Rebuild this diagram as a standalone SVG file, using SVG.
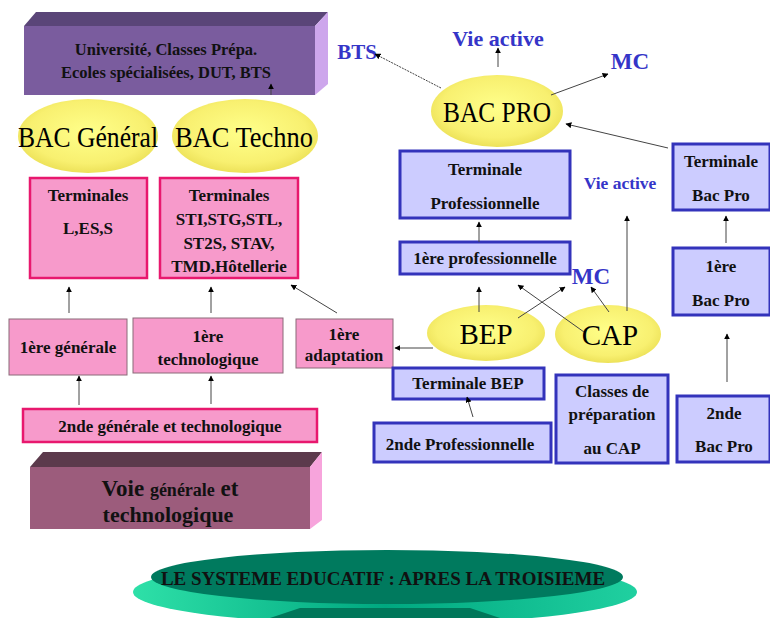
<svg xmlns="http://www.w3.org/2000/svg" width="770" height="618" viewBox="0 0 770 618">
<defs>
<radialGradient id="yel" cx="50%" cy="45%" r="60%">
<stop offset="0" stop-color="#ffff8a"/>
<stop offset="0.7" stop-color="#f8f070"/>
<stop offset="1" stop-color="#e8dc50"/>
</radialGradient>
<linearGradient id="grn" x1="0" y1="0" x2="1" y2="0">
<stop offset="0" stop-color="#2ee0a8"/>
<stop offset="0.5" stop-color="#00a880"/>
<stop offset="1" stop-color="#20d0a0"/>
</linearGradient>
<marker id="ah" viewBox="0 0 10 10" refX="9" refY="5" markerWidth="6" markerHeight="6" orient="auto" markerUnits="userSpaceOnUse">
<path d="M0,0 L10,5 L0,10 z" fill="#000"/>
</marker>
<style>
text{font-family:'Liberation Serif','DejaVu Serif',serif}
.t{font-weight:bold;fill:#111;text-anchor:middle}
.s15{font-size:17px}
.big{font-size:29px;fill:#000;text-anchor:middle}
.blue{font-weight:bold;fill:#3535c8;text-anchor:middle}
.pk{fill:#f79acb;stroke:#e8186e;stroke-width:2.5}
.pk2{fill:#f79acb;stroke:#8a6a78;stroke-width:1}
.bl{fill:#ccccff;stroke:#3333bb;stroke-width:3}
.el{fill:url(#yel)}
.c{stroke:#444;stroke-width:1;fill:none;marker-end:url(#ah)}
</style>
</defs>

<g id="universite">
<polygon points="24,26 36,12 328,12 315,26" fill="#5a4578"/>
<polygon points="315,26 328,12 328,84 315,95" fill="#cda6ec"/>
<rect x="24" y="26" width="291" height="69" fill="#7a5c9e"/>
<text class="t" x="166" y="55" style="font-size:16.5px">Université, Classes Prépa.</text>
<text class="t" x="166" y="78" style="font-size:16.5px">Ecoles spécialisées, DUT, BTS</text>
</g>

<g id="bac-general">
<ellipse class="el" cx="88" cy="136" rx="70" ry="37"/>
<text class="big" x="88" y="147" textLength="140" lengthAdjust="spacingAndGlyphs">BAC Général</text>
</g>
<g id="bac-techno">
<ellipse class="el" cx="245" cy="136" rx="73" ry="37"/>
<text class="big" x="244" y="147" textLength="138" lengthAdjust="spacingAndGlyphs">BAC Techno</text>
</g>

<g id="term-les">
<rect class="pk" x="30" y="178" width="117" height="100"/>
<text class="t s15" x="88" y="201">Terminales</text>
<text class="t s15" x="88" y="234">L,ES,S</text>
</g>
<g id="term-sti">
<rect class="pk" x="160" y="178" width="138" height="100"/>
<text class="t s15" x="229" y="201">Terminales</text>
<text class="t s15" x="229" y="225">STI,STG,STL,</text>
<text class="t s15" x="229" y="249">ST2S, STAV,</text>
<text class="t s15" x="229" y="272">TMD,Hôtellerie</text>
</g>

<g id="premiere-generale">
<rect class="pk2" x="9" y="319" width="118" height="56"/>
<text class="t s15" x="68" y="353">1ère générale</text>
</g>
<g id="premiere-techno">
<rect class="pk2" x="133" y="318" width="150" height="55"/>
<text class="t s15" x="208" y="342">1ère</text>
<text class="t s15" x="208" y="365">technologique</text>
</g>
<g id="premiere-adaptation">
<rect class="pk2" x="296" y="319" width="97" height="49"/>
<text class="t s15" x="344" y="340">1ère</text>
<text class="t s15" x="344" y="361">adaptation</text>
</g>

<g id="seconde-gt">
<rect class="pk" x="23" y="409" width="294" height="33"/>
<text class="t s15" x="170" y="432">2nde générale et technologique</text>
</g>

<g id="voie-gt">
<polygon points="30,467 43,452 322,452 310,467" fill="#5c3a4c"/>
<polygon points="310,467 322,452 322,520 310,529" fill="#f7a4dc"/>
<rect x="30" y="467" width="280" height="62" fill="#9c5c7c"/>
<text class="t" x="170" y="496" style="font-size:23px">Voie <tspan style="font-size:18px">générale</tspan> et</text>
<text class="t" x="168" y="522" style="font-size:22px">technologique</text>
</g>

<g id="titre">
<ellipse cx="385" cy="592" rx="252" ry="32" fill="url(#grn)"/>
<polygon points="300,608 470,608 500,618 270,618" fill="#00775a"/>
<ellipse cx="387" cy="577" rx="236" ry="27" fill="#007a5e"/>
<text class="t" x="383" y="585" style="font-size:19px">LE SYSTEME EDUCATIF  : APRES LA TROISIEME</text>
</g>

<g id="bac-pro">
<ellipse class="el" cx="497" cy="111" rx="66" ry="36"/>
<text class="big" x="497" y="122" textLength="108" lengthAdjust="spacingAndGlyphs">BAC PRO</text>
</g>
<text id="bts" class="blue" x="357" y="59" style="font-size:21px">BTS</text>
<text id="vie-active-1" class="blue" x="498" y="46" style="font-size:22px">Vie active</text>
<text id="mc-1" class="blue" x="630" y="69" style="font-size:23px">MC</text>

<g id="term-pro">
<rect class="bl" x="400" y="151" width="170" height="67"/>
<text class="t s15" x="485" y="175">Terminale</text>
<text class="t s15" x="485" y="209">Professionnelle</text>
</g>
<g id="premiere-pro">
<rect class="bl" x="400" y="242" width="170" height="32"/>
<text class="t s15" x="485" y="264">1ère professionnelle</text>
</g>
<text id="vie-active-2" class="blue" x="620" y="189" style="font-size:17.5px">Vie active</text>
<text id="mc-2" class="blue" x="591" y="284" style="font-size:23px">MC</text>

<g id="term-bacpro">
<rect class="bl" x="673" y="144" width="97" height="66"/>
<text class="t s15" x="721" y="167">Terminale</text>
<text class="t s15" x="721" y="201">Bac Pro</text>
</g>
<g id="premiere-bacpro">
<rect class="bl" x="673" y="248" width="97" height="67"/>
<text class="t s15" x="721" y="272">1ère</text>
<text class="t s15" x="721" y="306">Bac Pro</text>
</g>
<g id="seconde-bacpro">
<rect class="bl" x="677" y="396" width="93" height="66"/>
<text class="t s15" x="724" y="419">2nde</text>
<text class="t s15" x="724" y="452">Bac Pro</text>
</g>

<g id="bep">
<ellipse class="el" cx="486" cy="333" rx="59" ry="28"/>
<text class="big" x="486" y="344">BEP</text>
</g>
<g id="cap">
<ellipse class="el" cx="608" cy="334" rx="53" ry="29"/>
<text class="big" x="610" y="345">CAP</text>
</g>

<g id="term-bep">
<rect class="bl" x="393" y="368" width="151" height="31"/>
<text class="t s15" x="468" y="389">Terminale BEP</text>
</g>
<g id="seconde-pro">
<rect class="bl" x="374" y="423" width="177" height="39"/>
<text class="t s15" x="460" y="450">2nde Professionnelle</text>
</g>
<g id="prep-cap">
<rect class="bl" x="556" y="375" width="112" height="88"/>
<text class="t s15" x="612" y="397">Classes de</text>
<text class="t s15" x="612" y="420">préparation</text>
<text class="t s15" x="612" y="454">au CAP</text>
</g>

<g id="connectors">
<line class="c" x1="271" y1="95" x2="271" y2="84"/>
<line class="c" x1="69" y1="313" x2="69" y2="287"/>
<line class="c" x1="211" y1="313" x2="211" y2="287"/>
<line class="c" x1="337" y1="313" x2="291" y2="285"/>
<line class="c" x1="79" y1="405" x2="79" y2="376"/>
<line class="c" x1="211" y1="404" x2="211" y2="376"/>
<line class="c" x1="433" y1="348" x2="395" y2="348"/>
<line class="c" x1="441" y1="88" x2="375" y2="54" stroke-dasharray="2,1"/>
<line class="c" x1="498" y1="67" x2="498" y2="48"/>
<line class="c" x1="551" y1="95" x2="608" y2="74"/>
<line class="c" x1="668" y1="148" x2="566" y2="124"/>
<line class="c" x1="479" y1="242" x2="479" y2="222"/>
<line class="c" x1="726" y1="243" x2="726" y2="216"/>
<line class="c" x1="727" y1="382" x2="727" y2="334"/>
<line class="c" x1="479" y1="312" x2="479" y2="287"/>
<line class="c" x1="518" y1="318" x2="565" y2="287"/>
<line class="c" x1="584" y1="332" x2="518" y2="285"/>
<line class="c" x1="609" y1="312" x2="591" y2="287"/>
<line class="c" x1="627" y1="311" x2="627" y2="216"/>
<line class="c" x1="473" y1="417" x2="467" y2="397"/>
</g>
</svg>
